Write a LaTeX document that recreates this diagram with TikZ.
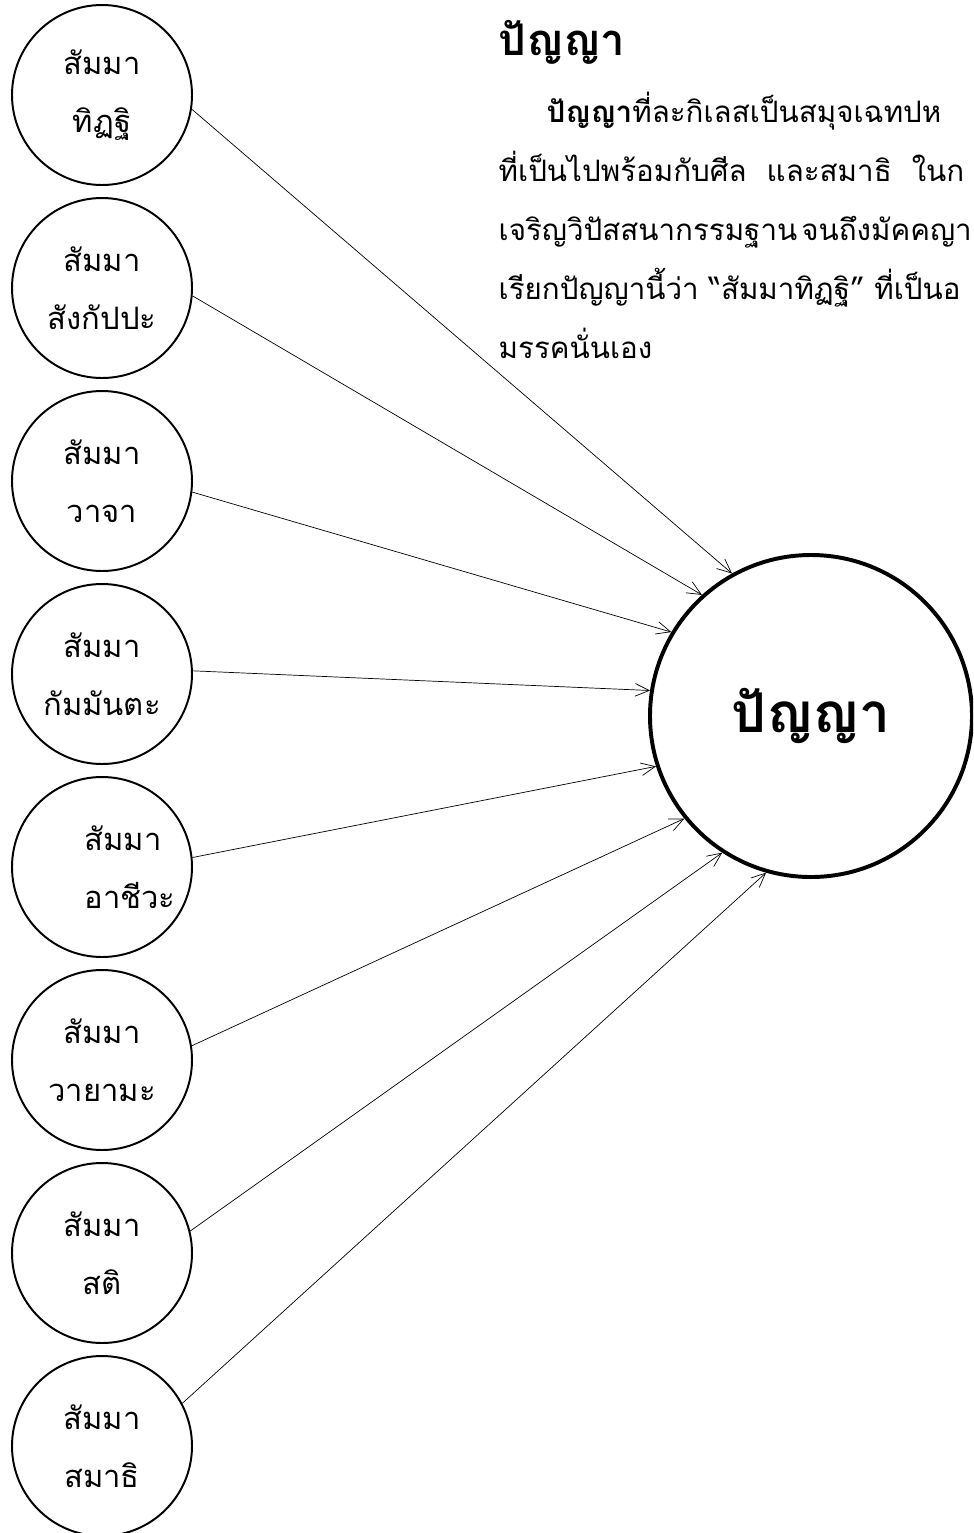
\documentclass[tikz,border=0pt]{standalone}
\usepackage{fontspec}
\usepackage{tikz}
\usetikzlibrary{positioning}
\usetikzlibrary{arrows.meta}
\newfontfamily\thaifont[Script=Thai]{Loma}
\tikzset{every picture/.style={line width=1pt},
  sammaa/.style={circle,draw,line width=1.4pt,minimum size=4.5cm,inner sep=0pt,align=center,font=\thaifont\fontsize{22}{41}\selectfont},
  panya/.style={circle,draw,line width=2.8pt,minimum size=8.05cm,font=\thaifont\bfseries\fontsize{39}{45}\selectfont},
  toward/.style={line width=0.5pt,-{Straight Barb[length=10pt,width=9pt]}},
  bodyline/.style={anchor=base west,inner sep=0pt,font=\thaifont\fontsize{21}{30}\selectfont}}

\begin{document}
\begin{tikzpicture}
\useasboundingbox (0,0) rectangle (24.325,-38.325);
\clip (0,0) rectangle (24.325,-38.325);

% eight factors of the path
\node (s1) at (2.55,-2.375) [sammaa] {สัมมา\\ทิฏฐิ};
\node (s2) [sammaa, below of=s1, node distance=4.825cm] {สัมมา\\สังกัปปะ};
\node (s3) [sammaa, below of=s2, node distance=4.825cm] {สัมมา\\วาจา};
\node (s4) [sammaa, below of=s3, node distance=4.825cm] {สัมมา\\กัมมันตะ};
\node (s5) [sammaa, below of=s4, node distance=4.825cm, align=left] {\hspace*{1.4cm}สัมมา\\\hspace*{1.4cm}อาชีวะ};
\node (s6) [sammaa, below of=s5, node distance=4.825cm] {สัมมา\\วายามะ};
\node (s7) [sammaa, below of=s6, node distance=4.825cm] {สัมมา\\สติ};
\node (s8) [sammaa, below of=s7, node distance=4.825cm] {สัมมา\\สมาธิ};

\node (p) at (20.275,-17.9) [panya] {ปัญญา};

% heading and text
\node (head) at (12.45,-1.375) [anchor=base west, inner sep=0pt, font=\thaifont\bfseries\fontsize{31}{35}\selectfont] {ปัญญา};
\node (t1) at (13.65,-3.05) [bodyline] {{\bfseries ปัญญา}ที่ละกิเลสเป็นสมุจเฉทปห};
\node (t2) at (12.45,-4.525) [bodyline] {ที่เป็นไปพร้อมกับศีล\hspace{0.5cm}และสมาธิ\hspace{0.5cm}ในก};
\node (t3) at (12.45,-6.0) [bodyline] {เจริญวิปัสสนากรรมฐาน\hspace{0.1cm}จนถึงมัคคญา};
\node (t4) at (12.45,-7.475) [bodyline] {เรียกปัญญานี้ว่า “สัมมาทิฏฐิ” ที่เป็นอ};
\node (t5) at (12.45,-8.95) [bodyline] {มรรคนั่นเอง};

\draw[toward] (s1.-9) -- (p.119);
\draw[toward] (s2.-5) -- (p.132);
\draw[toward] (s3.-7) -- (p.149);
\draw[toward] (s4.2) -- (p.171);
\draw[toward] (s5.6) -- (p.198);
\draw[toward] (s6.9) -- (p.219);
\draw[toward] (s7.14) -- (p.237);
\draw[toward] (s8.28) -- (p.254);
\end{tikzpicture}
\end{document}
